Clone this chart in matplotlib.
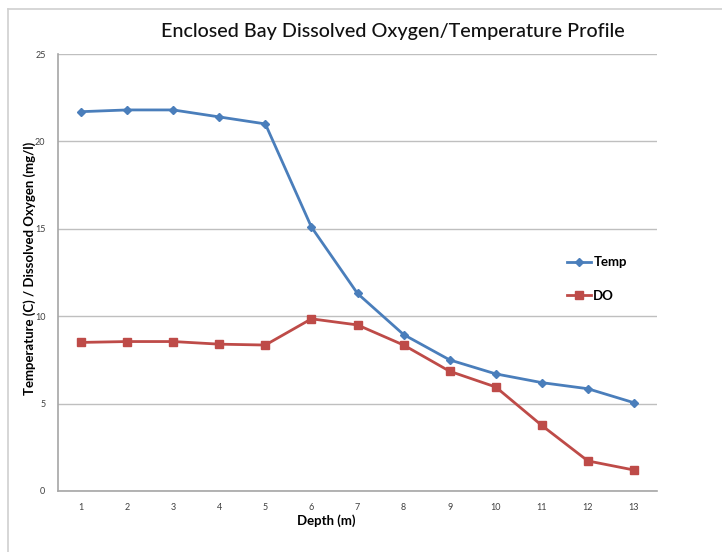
import matplotlib.pyplot as plt
from matplotlib.lines import Line2D

# Data
depth = [1, 2, 3, 4, 5, 6, 7, 8, 9, 10, 11, 12, 13]
temp = [21.7, 21.8, 21.8, 21.4, 21.0, 15.1, 11.3, 8.95, 7.5, 6.7, 6.2, 5.85, 5.05]
do = [8.5, 8.55, 8.55, 8.4, 8.35, 9.85, 9.5, 8.35, 6.85, 5.95, 3.75, 1.72, 1.2]
yticks = [0, 5, 10, 15, 20, 25]

plt.rcParams['font.family'] = ['Lato', 'DejaVu Sans']

fig = plt.figure(figsize=(7.22, 5.52), dpi=100)
ax = fig.add_axes([58 / 722, 1 - 491 / 552, (657 - 58) / 722, (491 - 54) / 552])

blue = '#4A7EBB'
red = '#BE4B48'
ax.plot(depth, temp, color=blue, lw=2, marker='D', ms=4, label='Temp', zorder=3)
ax.plot(depth, do, color=red, lw=2, marker='s', ms=6, label='DO', zorder=3)

ax.set_xlim(0.5, 13.5)
ax.set_ylim(0, 25)
ax.set_xticks(depth)
ax.set_yticks(yticks)
ax.tick_params(length=0, labelsize=6.5, labelcolor='#404040')
ax.tick_params(axis='y', pad=9)
ax.tick_params(axis='x', pad=9)
ax.grid(axis='y', color='#BFBFBF', lw=1)
ax.set_axisbelow(True)
for s in ['top', 'right']:
    ax.spines[s].set_visible(False)
for s in ['left', 'bottom']:
    ax.spines[s].set_color('#A6A6A6')
    ax.spines[s].set_linewidth(1.2)

fig.text(393 / 722, 1 - 32 / 552, 'Enclosed Bay Dissolved Oxygen/Temperature Profile',
         ha='center', va='center', fontsize=14.2, fontweight='medium', color='#111111')
fig.text(30 / 722, 1 - 268 / 552, 'Temperature (C) / Dissolved Oxygen (mg/l)',
         ha='center', va='center', rotation=90, fontsize=9.5, fontweight='bold')
fig.text(326 / 722, 1 - 521 / 552, 'Depth (m)', ha='center', va='center',
         fontsize=9.5, fontweight='bold')

leg = ax.legend(loc='center left', bbox_to_anchor=(555 / 722, 1 - 279 / 552),
                bbox_transform=fig.transFigure, frameon=False, fontsize=9.5,
                handlelength=1.8, handletextpad=0.2, labelspacing=1.6)
for t in leg.get_texts():
    t.set_fontweight('bold')

# outer chart frame (top and left edges visible)
fig.add_artist(Line2D([8 / 722, 1], [1 - 9 / 552, 1 - 9 / 552], color='#D0D0D0', lw=1.2,
                      transform=fig.transFigure))
fig.add_artist(Line2D([8 / 722, 8 / 722], [0, 1 - 9 / 552], color='#D0D0D0', lw=1.2,
                      transform=fig.transFigure))

fig.savefig('out.png', dpi=100)
